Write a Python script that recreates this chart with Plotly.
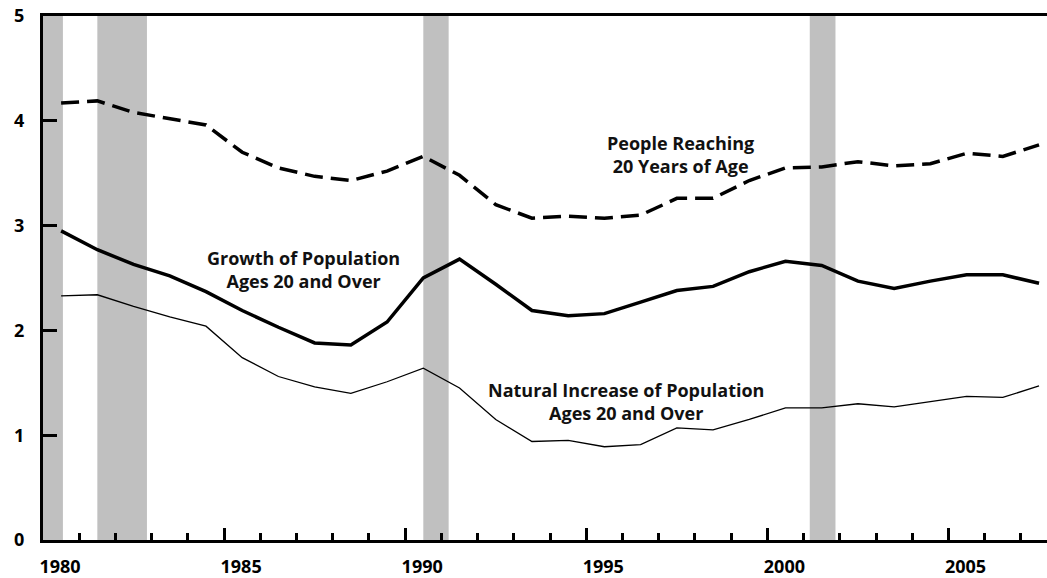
import plotly.graph_objects as go

# ---- data ----
years = [1980.5 + i for i in range(28)]  # mid-year positions, 1980..2007
reaching_20 = [4.17, 4.19, 4.08, 4.02, 3.96, 3.70, 3.55, 3.47, 3.43, 3.52,
               3.66, 3.48, 3.20, 3.07, 3.09, 3.07, 3.10, 3.26, 3.26, 3.43,
               3.55, 3.56, 3.61, 3.57, 3.59, 3.69, 3.66, 3.77]
growth_20_over = [2.95, 2.77, 2.63, 2.52, 2.37, 2.19, 2.03, 1.88, 1.86, 2.08,
                  2.50, 2.68, 2.44, 2.19, 2.14, 2.16, 2.27, 2.38, 2.42, 2.56,
                  2.66, 2.62, 2.47, 2.40, 2.47, 2.53, 2.53, 2.45]
natural_increase = [2.33, 2.34, 2.23, 2.13, 2.04, 1.74, 1.56, 1.46, 1.40, 1.51,
                    1.64, 1.45, 1.15, 0.94, 0.95, 0.89, 0.91, 1.07, 1.05, 1.15,
                    1.26, 1.26, 1.30, 1.27, 1.32, 1.37, 1.36, 1.47]
recession_start = [1980.0, 1981.5, 1990.5, 2001.17]
recession_end = [1980.55, 1982.87, 1991.2, 2001.88]
x_tick_vals = [1980, 1985, 1990, 1995, 2000, 2005]
x_tick_text = ["1980", "1985", "1990", "1995", "2000", "2005"]
y_tick_vals = [0, 1, 2, 3, 4, 5]

FONT = "Open Sans"

fig = go.Figure()

for s, e in zip(recession_start, recession_end):
    fig.add_shape(type="rect", xref="x", yref="paper", x0=s, x1=e, y0=0, y1=1,
                  fillcolor="#c0c0c0", line_width=0, layer="below")

fig.add_trace(go.Scatter(x=years, y=reaching_20, mode="lines",
                         line=dict(color="black", width=3.5, dash="18px,8px"),
                         showlegend=False))
fig.add_trace(go.Scatter(x=years, y=growth_20_over, mode="lines",
                         line=dict(color="black", width=3.5),
                         showlegend=False))
fig.add_trace(go.Scatter(x=years, y=natural_increase, mode="lines",
                         line=dict(color="black", width=1.3),
                         showlegend=False))

ann_font = dict(family=FONT, size=18, color="#111111", weight="bold")
fig.add_annotation(x=1987.18, y=2.58, text="Growth of Population<br>Ages 20 and Over",
                   showarrow=False, font=ann_font, align="center")
fig.add_annotation(x=1996.1, y=1.32, text="Natural Increase of Population<br>Ages 20 and Over",
                   showarrow=False, font=ann_font, align="center")
fig.add_annotation(x=1997.6, y=3.68, text="People Reaching<br>20 Years of Age",
                   showarrow=False, font=ann_font, align="center")

fig.update_layout(
    width=1047, height=578,
    margin=dict(l=43, r=0, t=16, b=38, autoexpand=False),
    plot_bgcolor="white", paper_bgcolor="white",
    font=dict(family=FONT, size=18, color="black"),
    xaxis=dict(
        range=[1980, 2007.72], showgrid=False, zeroline=False, automargin=False,
        showline=True, linecolor="black", linewidth=3, mirror=True,
        tickmode="array", tickvals=x_tick_vals, ticktext=x_tick_text,
        ticks="inside", ticklen=12, tickwidth=3, tickcolor="black",
        ticklabelshift=17, ticklabelstandoff=8,
        tickfont=dict(family=FONT, size=18, color="black", weight="bold"),
        minor=dict(dtick=1, tick0=1980, ticks="inside", ticklen=7,
                   tickwidth=2.5, tickcolor="black", showgrid=False),
    ),
    yaxis=dict(
        range=[0, 5], showgrid=False, zeroline=False, automargin=False,
        showline=True, linecolor="black", linewidth=3,
        tickmode="array", tickvals=y_tick_vals,
        ticks="inside", ticklen=14, tickwidth=3, tickcolor="black",
        ticklabelstandoff=12,
        tickfont=dict(family=FONT, size=18, color="black", weight="bold"),
    ),
)

fig.write_html("out.html", config={"displayModeBar": False},
               post_script="document.body.style.margin='0';document.body.style.overflow='hidden';")
